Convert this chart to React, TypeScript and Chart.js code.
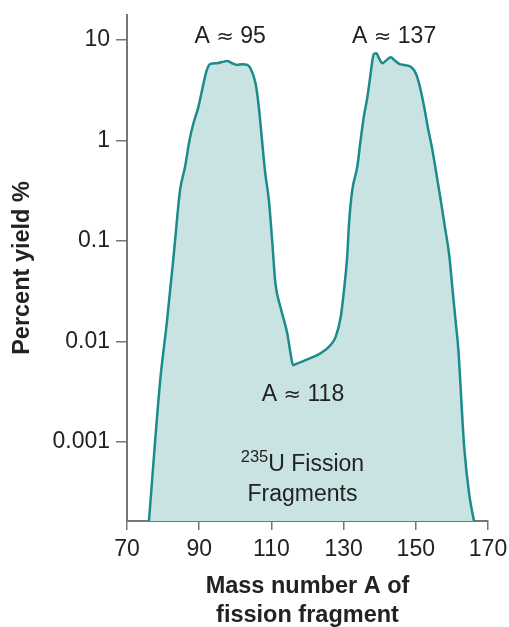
import React, { useEffect, useRef } from "react";
import { Chart, registerables } from "chart.js";

Chart.register(...registerables);

// ---- data ----
const massNumbers = [
  76.0, 79.2, 81.0, 82.9, 84.7, 86.1, 87.3, 88.4, 89.8, 91.2,
  92.1, 93.1, 94.9, 96.8, 97.9, 99.1, 100.5, 101.9, 103.3, 104.2,
  105.6, 106.5, 107.4, 108.3, 109.3, 110.2, 111.1, 112.5, 114.4, 115.3,
  116.0, 117.1, 119.0, 120.8, 123.6, 126.4, 127.8, 129.2, 130.1, 131.0,
  131.5, 132.4, 133.8, 134.7, 135.6, 136.6, 137.5, 138.0, 138.4, 139.1,
  139.8, 140.8, 141.7, 143.1, 144.0, 145.4, 146.8, 148.1, 149.1, 150.0,
  150.9, 152.3, 153.3, 154.6, 156.0, 156.9, 157.9, 159.3, 160.2, 161.1,
  161.8, 162.3, 163.4, 164.8, 166.3,
];
const percentYield = [
  0.00015, 0.0041, 0.015, 0.07, 0.32, 0.55, 1.0, 1.48, 2.17, 3.7,
  5.0, 5.77, 5.86, 6.08, 6.18, 5.86, 5.64, 5.73, 5.64, 5.22,
  3.7, 2.17, 1.0, 0.47, 0.255, 0.102, 0.038, 0.022, 0.012, 0.0076,
  0.0058, 0.006, 0.0064, 0.0068, 0.0076, 0.0092, 0.0111, 0.0175, 0.032, 0.07,
  0.149, 0.32, 0.55, 1.0, 1.72, 2.72, 4.66, 6.32, 7.26, 7.38,
  6.57, 5.86, 6.22, 6.72, 6.32, 5.77, 5.64, 5.51, 5.22, 4.66,
  3.7, 2.17, 1.37, 0.8, 0.4, 0.255, 0.149, 0.07, 0.032, 0.015,
  0.0082, 0.0041, 0.00089, 0.0003, 0.00015,
];
const xTickValues = [70, 90, 110, 130, 150, 170];
const yTickValues = [0.001, 0.01, 0.1, 1, 10];
const yTickLabels = ["0.001", "0.01", "0.1", "1", "10"];
const X_MIN = 70;
const X_MAX = 170;
const Y_MIN = 0.000163;
const Y_MAX = 17.7;

const xTitle = ["Mass number A of", "fission fragment"];
const yTitle = "Percent yield %";
const peakLabels = [
  { before: "A ", symbol: "\u2248", after: " 95", a: 98.6, v: 10.8 },
  { before: "A ", symbol: "\u2248", after: " 137", a: 144.0, v: 10.8 },
  { before: "A ", symbol: "\u2248", after: " 118", a: 118.75, v: 0.00298 },
];
const isotopeMass = "235";
const isotopeLine1 = "U Fission";
const isotopeLine2 = "Fragments";
const isotopePos = { a: 118.6, v1: 0.000598, v2: 0.000301 };

// ---- styles ----
const FONT = "'Liberation Sans', Arial, Helvetica, sans-serif";
const SYMBOL_FONT = "'DejaVu Sans', sans-serif";
const LINE = "#1b8b8b";
const FILL = "#c9e3e3";
const AXIS = "#767676";
const TEXT = "#222222";

function drawParts(ctx: CanvasRenderingContext2D, parts: { t: string; f: string; dy?: number }[], cx: number, cy: number) {
  let total = 0;
  const widths = parts.map((p) => {
    ctx.font = p.f;
    const w = ctx.measureText(p.t).width;
    total += w;
    return w;
  });
  let x = cx - total / 2;
  ctx.textAlign = "left";
  parts.forEach((p, i) => {
    ctx.font = p.f;
    ctx.fillText(p.t, x, cy + (p.dy || 0));
    x += widths[i];
  });
}

const annotationPlugin = {
  id: "fissionAnnotations",
  afterDatasetsDraw(chart: any) {
    const { ctx } = chart;
    const x = chart.scales.x;
    const y = chart.scales.y;
    ctx.save();
    ctx.fillStyle = TEXT;
    ctx.textBaseline = "middle";
    const main = `23px ${FONT}`;
    const sym = `21px ${SYMBOL_FONT}`;
    for (const l of peakLabels) {
      drawParts(
        ctx,
        [
          { t: l.before, f: main },
          { t: l.symbol, f: sym, dy: 1 },
          { t: l.after, f: main },
        ],
        x.getPixelForValue(l.a),
        y.getPixelForValue(l.v)
      );
    }
    const cx = x.getPixelForValue(isotopePos.a);
    const cy1 = y.getPixelForValue(isotopePos.v1);
    const cy2 = y.getPixelForValue(isotopePos.v2);
    drawParts(
      ctx,
      [
        { t: isotopeMass, f: `16.5px ${FONT}`, dy: -6.5 },
        { t: isotopeLine1, f: main },
      ],
      cx,
      cy1
    );
    ctx.font = main;
    ctx.textAlign = "center";
    ctx.fillText(isotopeLine2, cx, cy2);
    ctx.restore();
  },
};

export default function App() {
  const ref = useRef<HTMLCanvasElement>(null);

  useEffect(() => {
    const canvas = ref.current;
    if (!canvas) return;
    const points = massNumbers.map((a, i) => ({ x: a, y: percentYield[i] }));
    const chart = new Chart(canvas, {
      type: "line",
      data: {
        datasets: [
          {
            data: points,
            borderColor: LINE,
            backgroundColor: FILL,
            borderWidth: 2.5,
            fill: "start",
            pointRadius: 0,
            cubicInterpolationMode: "monotone",
          },
        ],
      },
      options: {
        responsive: false,
        animation: false,
        devicePixelRatio: 1,
        layout: { padding: { top: 15, right: 21, bottom: 0, left: 0 } },
        plugins: {
          legend: { display: false },
          tooltip: { enabled: false },
        },
        scales: {
          x: {
            type: "linear",
            min: X_MIN,
            max: X_MAX,
            afterBuildTicks: (s: any) => {
              s.ticks = xTickValues.map((v) => ({ value: v }));
            },
            afterFit: (s: any) => {
              s.height = 106;
              s.paddingLeft = 0;
              s.paddingRight = 0;
            },
            ticks: {
              font: { family: FONT, size: 23 },
              color: TEXT,
              padding: 6,
              maxRotation: 0,
              autoSkip: false,
              callback: (v: any) => String(v),
            },
            grid: {
              drawOnChartArea: false,
              drawTicks: true,
              tickLength: 9,
              color: AXIS,
              lineWidth: 1.5,
            },
            border: { display: true, color: AXIS, width: 2 },
            title: {
              display: true,
              text: xTitle,
              color: TEXT,
              font: { family: FONT, size: 23.5, weight: "bold", lineHeight: "29px" },
              padding: { top: 0, bottom: -3 },
            },
          },
          y: {
            type: "logarithmic",
            min: Y_MIN,
            max: Y_MAX,
            afterBuildTicks: (s: any) => {
              s.ticks = yTickValues.map((v) => ({ value: v }));
            },
            afterFit: (s: any) => {
              s.width = 127;
              s.paddingTop = 0;
              s.paddingBottom = 0;
            },
            ticks: {
              font: { family: FONT, size: 23 },
              color: TEXT,
              padding: 6,
              autoSkip: false,
              callback: (v: any) => {
                const i = yTickValues.findIndex((t) => Math.abs(t - v) / t < 1e-6);
                return i >= 0 ? yTickLabels[i] : "";
              },
            },
            grid: {
              drawOnChartArea: false,
              drawTicks: true,
              tickLength: 11,
              color: AXIS,
              lineWidth: 1.5,
            },
            border: { display: true, color: AXIS, width: 2 },
            title: {
              display: true,
              text: yTitle,
              color: TEXT,
              font: { family: FONT, size: 23.5, weight: "bold" },
              padding: { top: 8, bottom: 0 },
            },
          },
        },
      } as any,
      plugins: [annotationPlugin],
    });
    return () => chart.destroy();
  }, []);

  return (
    <div
      style={{
        position: "absolute",
        left: 0,
        top: 0,
        width: 509,
        height: 627,
        background: "#ffffff",
        overflow: "hidden",
      }}
    >
      <canvas ref={ref} width={509} height={627} style={{ display: "block" }} />
    </div>
  );
}
